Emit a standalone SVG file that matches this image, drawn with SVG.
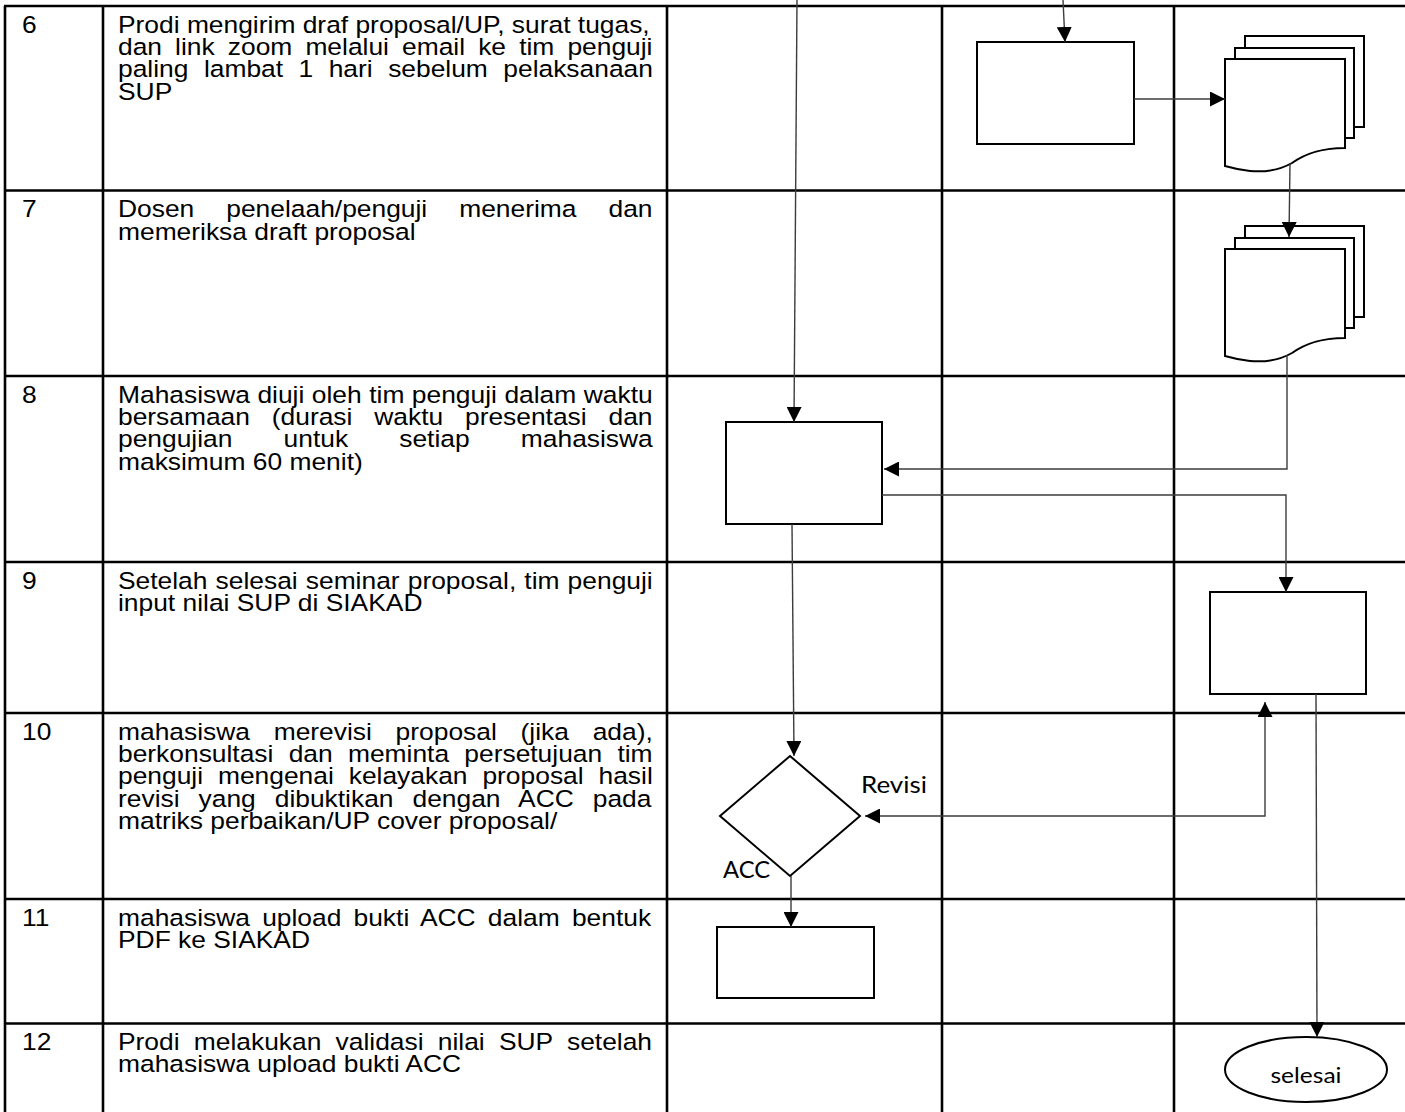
<svg xmlns="http://www.w3.org/2000/svg" xmlns:xlink="http://www.w3.org/1999/xlink" width="1405" height="1112" viewBox="0 0 1405 1112">
<style>
.grid{stroke:#000;stroke-width:2.6;fill:none}
.node{fill:#fff;stroke:#000;stroke-width:2}
.conn{fill:none;stroke:#3c3c3c;stroke-width:1.4}
.t{font-family:"Liberation Sans",Arial,sans-serif;font-size:23.3px;fill:#000}
.lbl{font-family:Lato,"Open Sans",sans-serif;fill:#000}
</style>
<defs>
<marker id="arr" viewBox="0 0 15 15" refX="15" refY="7.5" markerWidth="15" markerHeight="15" markerUnits="userSpaceOnUse" orient="auto-start-reverse">
<path d="M0,0 L15,7.5 L0,15 Z" fill="#000"/>
</marker>
<g id="docstack">
<rect class="node" x="20" y="-23" width="119" height="91"/>
<rect class="node" x="10" y="-11" width="119" height="90"/>
<path class="node" d="M0,0 H120 V89 C95,89 80,95 67,104 C53,112 37,113 25,112 C15,111 7,109 0,107 Z"/>
</g>
</defs>
<rect x="0" y="0" width="1405" height="1112" fill="#fff"/>
<g id="table">
<path class="grid" d="M4,6 H1405 M4,190.5 H1405 M4,376 H1405 M4,562 H1405 M4,713 H1405 M4,899 H1405 M4,1023.5 H1405"/>
<path class="grid" d="M5,6 V1112 M103,6 V1112 M667,6 V1112 M942,6 V1112 M1174,6 V1112"/>
</g>
<g id="numbers" transform="translate(22,0) scale(1.133,1)">
<text class="t" x="0" y="33">6</text>
<text class="t" x="0" y="217.5">7</text>
<text class="t" x="0" y="403">8</text>
<text class="t" x="0" y="589">9</text>
<text class="t" x="0" y="740">10</text>
<text class="t" x="0" y="926">11</text>
<text class="t" x="0" y="1050">12</text>
</g>
<g id="steps" transform="translate(118,0) scale(1.133,1)">
<g id="step6">
<text class="t" x="0" y="33">Prodi mengirim draf proposal/UP, surat tugas,</text>
<text class="t" x="0" y="55.2" word-spacing="5.1">dan link zoom melalui email ke tim penguji</text>
<text class="t" x="0" y="77.4" word-spacing="7.2">paling lambat 1 hari sebelum pelaksanaan</text>
<text class="t" x="0" y="99.6">SUP</text>
</g>
<g id="step7">
<text class="t" x="0" y="217.5" word-spacing="21.8">Dosen penelaah/penguji menerima dan</text>
<text class="t" x="0" y="239.7">memeriksa draft proposal</text>
</g>
<g id="step8">
<text class="t" x="0" y="403" word-spacing="0.15">Mahasiswa diuji oleh tim penguji dalam waktu</text>
<text class="t" x="0" y="425.2" word-spacing="12.8">bersamaan (durasi waktu presentasi dan</text>
<text class="t" x="0" y="447.4" word-spacing="38.7">pengujian untuk setiap mahasiswa</text>
<text class="t" x="0" y="469.6">maksimum 60 menit)</text>
</g>
<g id="step9">
<text class="t" x="0" y="589" word-spacing="0.7">Setelah selesai seminar proposal, tim penguji</text>
<text class="t" x="0" y="611.2">input nilai SUP di SIAKAD</text>
</g>
<g id="step10">
<text class="t" x="0" y="740" word-spacing="14.5">mahasiswa merevisi proposal (jika ada),</text>
<text class="t" x="0" y="762.2" word-spacing="7">berkonsultasi dan meminta persetujuan tim</text>
<text class="t" x="0" y="784.4" word-spacing="6.7">penguji mengenai kelayakan proposal hasil</text>
<text class="t" x="0" y="806.6" word-spacing="10.3">revisi yang dibuktikan dengan ACC pada</text>
<text class="t" x="0" y="828.8">matriks perbaikan/UP cover proposal/</text>
</g>
<g id="step11">
<text class="t" x="0" y="926" word-spacing="4.3">mahasiswa upload bukti ACC dalam bentuk</text>
<text class="t" x="0" y="948.2">PDF ke SIAKAD</text>
</g>
<g id="step12">
<text class="t" x="0" y="1050" word-spacing="6.1">Prodi melakukan validasi nilai SUP setelah</text>
<text class="t" x="0" y="1072.2">mahasiswa upload bukti ACC</text>
</g>
</g>
<g id="node-rect6"><rect class="node" x="977" y="42" width="157" height="102"/></g>
<g id="node-doc6"><use xlink:href="#docstack" href="#docstack" x="1225" y="59"/></g>
<g id="node-doc7"><use xlink:href="#docstack" href="#docstack" x="1225" y="249"/></g>
<g id="node-rect8"><rect class="node" x="726" y="422" width="156" height="102"/></g>
<g id="node-rect9"><rect class="node" x="1210" y="592" width="156" height="102"/></g>
<g id="node-decision"><polygon class="node" points="790,756 860,816 790,876 720,816"/></g>
<g id="node-rect11"><rect class="node" x="717" y="927" width="157" height="71"/></g>
<g id="node-end">
<ellipse class="node" cx="1306" cy="1069.5" rx="81" ry="32.5"/>
<text class="lbl" x="1270.5" y="1083" font-size="20.5" textLength="71" lengthAdjust="spacingAndGlyphs">selesai</text>
</g>
<g id="connectors">
<path class="conn" d="M1063,0 L1065,42" marker-end="url(#arr)"/>
<path class="conn" d="M797,0 L794,422" marker-end="url(#arr)"/>
<path class="conn" d="M1134,99 H1225" marker-end="url(#arr)"/>
<path class="conn" d="M1290,163 L1289,237" marker-end="url(#arr)"/>
<path class="conn" d="M1287,355 V469 H884" marker-end="url(#arr)"/>
<path class="conn" d="M882,495 H1286 V592" marker-end="url(#arr)"/>
<path class="conn" d="M792,524 L794,756" marker-end="url(#arr)"/>
<path class="conn" d="M1265,702 V816 H865" marker-start="url(#arr)" marker-end="url(#arr)"/>
<path class="conn" d="M791,876 V927" marker-end="url(#arr)"/>
<path class="conn" d="M1316,694 L1317,1037" marker-end="url(#arr)"/>
<text class="lbl" x="861" y="793" font-size="23.3" textLength="66" lengthAdjust="spacingAndGlyphs">Revisi</text>
<text class="lbl" x="723" y="878" font-size="23.3" textLength="47" lengthAdjust="spacingAndGlyphs">ACC</text>
</g>
</svg>
